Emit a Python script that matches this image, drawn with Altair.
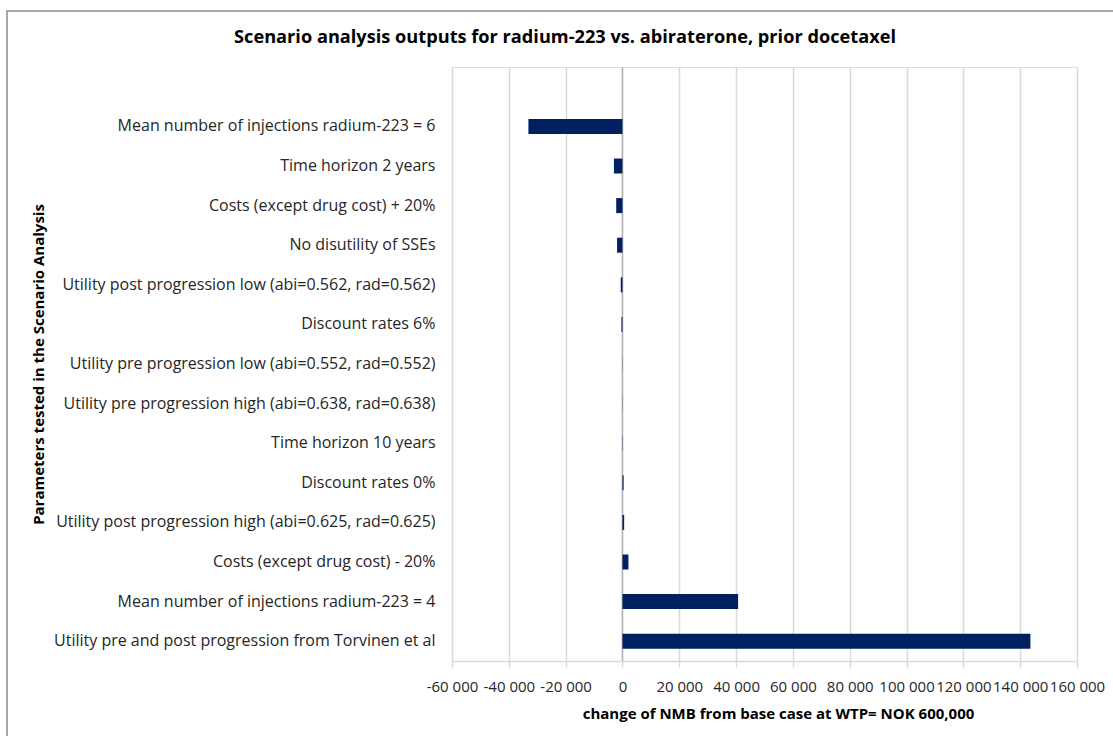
import altair as alt
import pandas as pd

# Scenarios, top to bottom, and the change in net monetary benefit (NOK)
scenarios = [
    "Mean number of injections radium-223 = 6",
    "Time horizon 2 years",
    "Costs (except drug cost) + 20%",
    "No disutility of SSEs\u00a0",
    "Utility post progression low (abi=0.562, rad=0.562)",
    "Discount rates 6%",
    "Utility pre progression low (abi=0.552, rad=0.552)",
    "Utility pre progression high (abi=0.638, rad=0.638)",
    "Time horizon 10 years",
    "Discount rates 0%",
    "Utility post progression high (abi=0.625, rad=0.625)",
    "Costs (except drug cost) - 20%",
    "Mean number of injections radium-223 = 4",
    "Utility pre and post progression from Torvinen et al",
]
nmb_change = [-33100, -3000, -2200, -1900, -600, -350, -60, 60, 100, 400, 600, 2100, 40700, 143600]
x_ticks = [-60000, -40000, -20000, 0, 20000, 40000, 60000, 80000, 100000, 120000, 140000, 160000]
chart_title = ["Scenario analysis outputs for radium-223 vs. abiraterone, prior docetaxel"]

df = pd.DataFrame({"scenario": scenarios, "change": nmb_change})
# an empty slot above the first scenario leaves headroom under the title
y_domain = [""] + scenarios

FONT = "Open Sans"
TEXT = "#262626"
GRID = "#d9d9d9"

x_scale = alt.Scale(domain=[-60000, 160000], nice=False, zero=False)
y_scale = alt.Scale(domain=y_domain, paddingInner=0.62, paddingOuter=0.31)

bars = alt.Chart(df).mark_bar(color="#002060", size=15).encode(
    x=alt.X(
        "change:Q",
        scale=x_scale,
        axis=alt.Axis(
            values=x_ticks,
            labelExpr="datum.value == 0 ? '0' : (datum.value < 0 ? '-' : '') + format(abs(datum.value) / 1000, 'd') + ' 000'",
            title="change of  NMB from base case at WTP= NOK 600,000",
            grid=True,
            gridColor=GRID,
            gridWidth=1.5,
            domainColor=GRID,
            domainWidth=1.5,
            tickColor=GRID,
            tickWidth=1.5,
            tickSize=6,
            labelFont=FONT,
            labelFontSize=15,
            labelColor=TEXT,
            labelPadding=12,
            labelOverlap=False,
            labelFlush=False,
            titleFont=FONT,
            titleFontSize=15,
            titleFontWeight="bold",
            titleColor="#000000",
            titleX=326,
            titleY=52,
            titleBaseline="middle",
        ),
    ),
    y=alt.Y(
        "scenario:N",
        sort=y_domain,
        scale=y_scale,
        axis=alt.Axis(
            title="Parameters tested in the Scenario Analysis",
            domain=False,
            ticks=False,
            grid=False,
            labelFont=FONT,
            labelFontSize=16,
            labelColor=TEXT,
            labelPadding=17,
            labelLimit=500,
            titleFont=FONT,
            titleFontSize=15,
            titleFontWeight="bold",
            titleColor="#000000",
            titleX=-414,
            titleY=297,
            titleAlign="center",
            titleBaseline="middle",
        ),
    ),
)

# vertical category axis crossing at zero
zero_line = alt.Chart(pd.DataFrame({"x": [0]})).mark_rule(color="#b3b3b3", strokeWidth=1.5).encode(
    x=alt.X("x:Q", scale=x_scale)
)

# chart-area frame
frame = alt.Chart(pd.DataFrame({"a": [0]})).mark_rect(
    fillOpacity=0, stroke="#8c8c8c", strokeWidth=1.5
).encode(
    x=alt.value(-445), x2=alt.value(690), y=alt.value(-56), y2=alt.value(700)
)

# chart title, centred on the chart area
title = alt.Chart(pd.DataFrame({"t": chart_title})).mark_text(
    font=FONT, fontSize=18.2, fontWeight="bold", color="#000000", align="center", baseline="middle"
).encode(x=alt.value(113), y=alt.value(-29), text="t:N")

chart = alt.layer(frame, zero_line, bars, title).properties(
    width=625,
    height=594,
    autosize=alt.AutoSizeParams(type="none"),
    padding={"left": 452, "top": 67, "right": 36, "bottom": 75},
).configure_view(stroke=None).configure(background="white")

chart.save("out.html", embed_options={"renderer": "svg", "actions": False})
